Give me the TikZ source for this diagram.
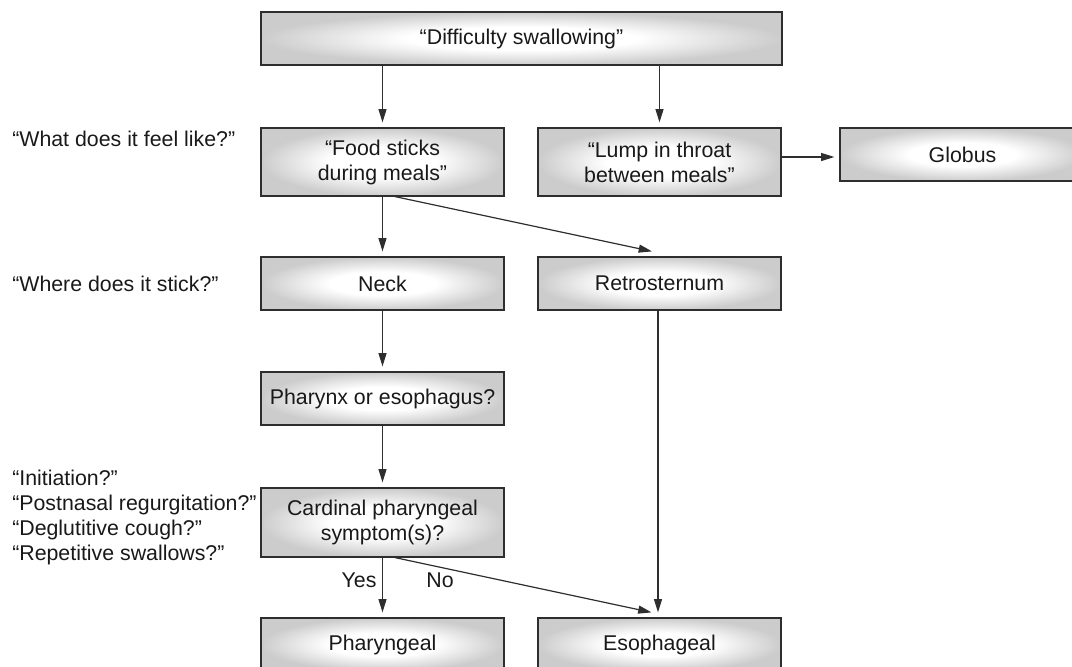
\documentclass[tikz,border=0pt]{standalone}
\usepackage{fontspec}
\setmainfont{Liberation Sans}
\usetikzlibrary{arrows.meta,calc}
\definecolor{shadegray}{rgb}{0.8,0.8,0.8}
\definecolor{linegray}{rgb}{0.18,0.18,0.18}
\definecolor{txt}{rgb}{0.1,0.1,0.1}
\pgfdeclareradialshading{boxshade}{\pgfpoint{0bp}{0bp}}{color(0bp)=(white);color(11bp)=(white);color(25bp)=(shadegray);color(50bp)=(shadegray)}
\tikzset{
  bx/.style 2 args={draw=linegray, line width=0.9pt, shading=boxshade,
    minimum width=#1*0.75pt, minimum height=#2*0.75pt, inner sep=0pt,
    align=center, text=txt, font=\fontsize{16}{18.75}\selectfont},
  lbl/.style={text=txt, inner sep=0pt, font=\fontsize{16}{18.75}\selectfont},
  arr/.style={draw=linegray, line width=0.9pt, -{Triangle[length=10pt,width=6pt]}},
}
\begin{document}
\begin{tikzpicture}[x=0.75pt,y=-0.75pt]
\useasboundingbox (0,0) rectangle (1072,667);
\clip (0,0) rectangle (1072,667);
% boxes
\node[bx={521}{53}] (top) at (521.5,38.5) {“Difficulty swallowing”};
\node[bx={243}{68}] (food) at (382.5,162) {“Food sticks\\during meals”};
\node[bx={243}{68}] (lump) at (659.5,162) {“Lump in throat\\between meals”};
\node[bx={245}{53}] (globus) at (962.5,154.5) {Globus};
\node[bx={243}{53}] (neck) at (382.5,283.5) {Neck};
\node[bx={243}{53}] (retro) at (659.5,283.5) {Retrosternum};
\node[bx={243}{53}] (phx) at (382.5,398.5) {Pharynx or esophagus?};
\node[bx={243}{69}] (card) at (382.5,522.5) {Cardinal pharyngeal\\symptom(s)?};
\node[bx={243}{53}] (phar) at (382.5,644.5) {Pharyngeal};
\node[bx={243}{53}] (eso) at (659.5,644.5) {Esophageal};
% left labels
\node[lbl, anchor=west] (q1) at (12,139) {“What does it feel like?”};
\node[lbl, anchor=west] (q2) at (12,283.5) {“Where does it stick?”};
\node[lbl, anchor=west, align=left] (q3) at (12,517) {“Initiation?”\\“Postnasal regurgitation?”\\“Deglutitive cough?”\\“Repetitive swallows?”};
\node[lbl] (yes) at (359,580) {Yes};
\node[lbl] (no) at (440,580) {No};
% connectors
\draw[arr] (food.north |- top.south) -- ($(food.north)+(0,-5)$);
\draw[arr] (lump.north |- top.south) -- ($(lump.north)+(0,-5)$);
\draw[arr] (lump.east |- 0,157) -- ($(globus.west |- 0,157)+(-5,0)$);
\draw[arr] (food.south) -- ($(neck.north)+(0,-5)$);
\draw[arr] ($(food.south)+(12.5,0)$) -- ($(retro.north)+(-7.5,-5)$);
\draw[arr] (neck.south) -- ($(phx.north)+(0,-5)$);
\draw[arr] (phx.south) -- ($(card.north)+(0,-5)$);
\draw[arr] (card.south) -- ($(phar.north)+(0,-5)$);
\draw[arr] ($(card.south)+(12.5,0)$) -- ($(eso.north)+(-8,-5)$);
\draw[arr] ($(retro.south)+(-1.5,0)$) -- ($(eso.north)+(-1.5,-5)$);
\end{tikzpicture}
\end{document}
